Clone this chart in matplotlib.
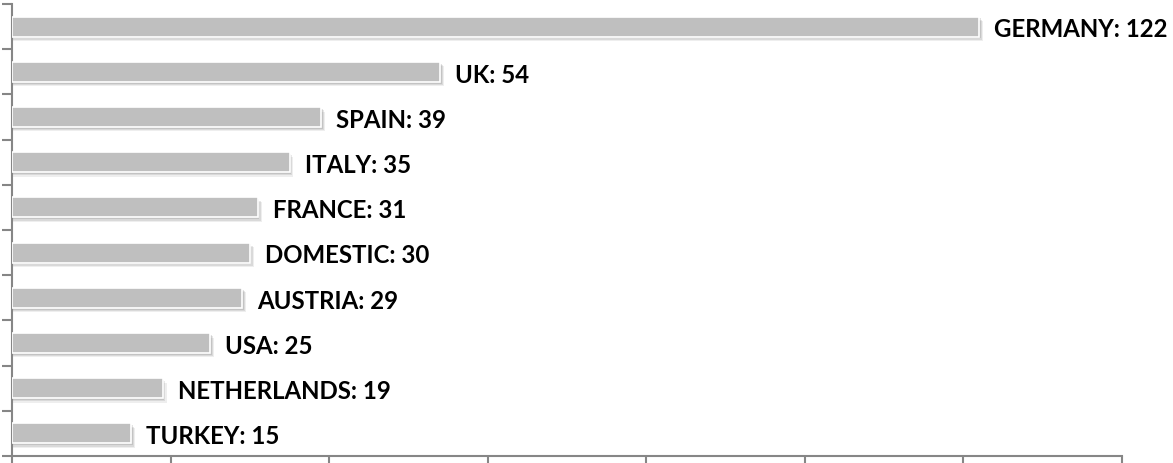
import matplotlib
matplotlib.use("Agg")
import matplotlib.pyplot as plt
import numpy as np

countries = ["TURKEY", "NETHERLANDS", "USA", "AUSTRIA", "DOMESTIC", "FRANCE", "ITALY", "SPAIN", "UK", "GERMANY"]
values = [15, 19, 25, 29, 30, 31, 35, 39, 54, 122]
x_ticks = [0, 20, 40, 60, 80, 100, 120, 140]

W, H = 1173, 464
fig = plt.figure(figsize=(W / 100, H / 100), dpi=100)
ax = fig.add_axes([12 / W, 7 / H, (1122 - 12) / W, (457 - 5) / H])

y = np.arange(len(countries))
bh = 0.44
# soft shadow
for dy, dx, a in [(0.10, 0.5, 0.10), (0.07, 0.35, 0.14), (0.04, 0.2, 0.18)]:
    ax.barh(y - dy, np.array(values) + dx, height=bh, color="#606060", alpha=a,
            linewidth=0, zorder=1)
ax.barh(y, values, height=bh, color="#bfbfbf", edgecolor="white", linewidth=1.2, zorder=3)

for yi, c, v in zip(y, countries, values):
    ax.text(v + 1.9, yi - 0.05, f"{c}: {v}", va="center", ha="left", fontsize=17.3,
            fontweight="bold", family="Lato", color="black", zorder=4)

ax.set_xlim(0, 140)
ax.set_ylim(-0.5, len(countries) - 0.5)
ax.set_xticks(x_ticks)
ax.set_xticklabels([])
ax.set_yticks(np.arange(len(countries) + 1) - 0.5)
ax.set_yticklabels([])
for s in ["top", "right"]:
    ax.spines[s].set_visible(False)
for s in ["left", "bottom"]:
    ax.spines[s].set_color("#868686")
    ax.spines[s].set_linewidth(1.5)
ax.tick_params(axis="both", length=7, width=1.5, color="#868686", direction="out")

fig.savefig("out.png", dpi=100)
